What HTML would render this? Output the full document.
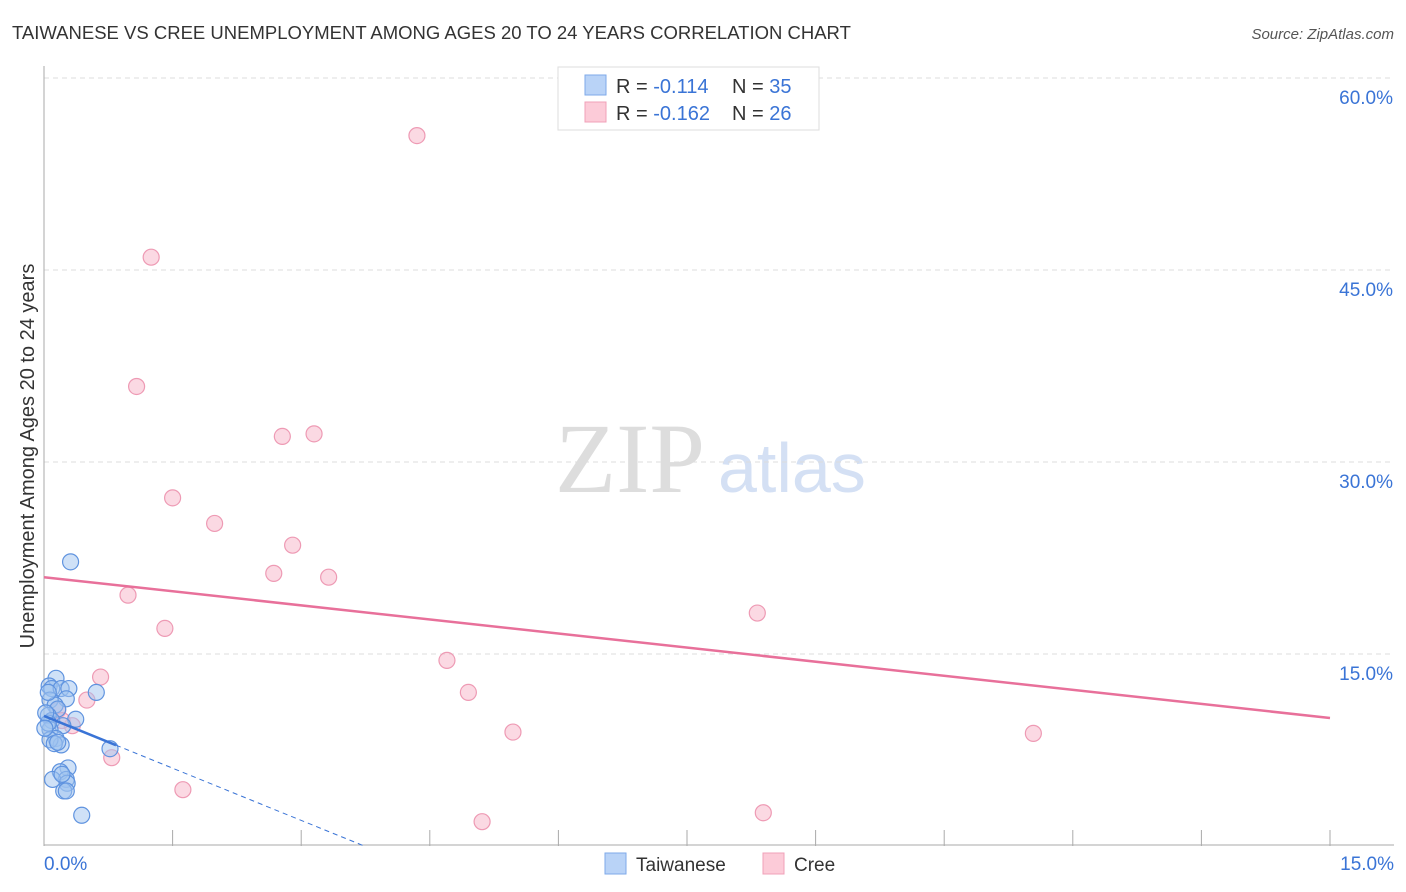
<!DOCTYPE html>
<html><head><meta charset="utf-8"><style>
body{margin:0;background:#fff;font-family:"Liberation Sans",sans-serif;}
#wrap{position:relative;width:1406px;height:892px;overflow:hidden;}
</style></head><body>
<div id="wrap">
<svg id="svg" width="1406" height="892" xmlns="http://www.w3.org/2000/svg" style="position:absolute;left:0;top:0">
<text x="12" y="39" font-size="18.5" fill="#333">TAIWANESE VS CREE UNEMPLOYMENT AMONG AGES 20 TO 24 YEARS CORRELATION CHART</text>
<text x="1394" y="39" font-size="15" fill="#555" font-style="italic" text-anchor="end">Source: ZipAtlas.com</text>
<text transform="translate(34,456) rotate(-90)" font-size="20" fill="#333" text-anchor="middle">Unemployment Among Ages 20 to 24 years</text>
<text x="555" y="492" font-size="100" fill="#ddd" font-family="Liberation Serif,serif">ZIP</text>
<text x="718" y="492" font-size="70" fill="#d4e0f4">atlas</text>
<g id="grid"></g><g id="marks"></g>
<g>
<rect x="558" y="67" width="261" height="63" fill="#fff" stroke="#ddd"/>
<rect x="585" y="75" width="21" height="20" fill="#b9d3f7" stroke="#7eaaea"/>
<rect x="585" y="102" width="21" height="20" fill="#fccbd8" stroke="#f0a0b8"/>
<text x="616" y="93" font-size="20" fill="#333">R = <tspan fill="#3a74d6">-0.114</tspan><tspan x="732">N = </tspan><tspan fill="#3a74d6">35</tspan></text>
<text x="616" y="120" font-size="20" fill="#333">R = <tspan fill="#3a74d6">-0.162</tspan><tspan x="732">N = </tspan><tspan fill="#3a74d6">26</tspan></text>
</g>
<g>
<rect x="605" y="853" width="21" height="21" fill="#b9d3f7" stroke="#7eaaea"/>
<text x="636" y="871" font-size="19" fill="#333">Taiwanese</text>
<rect x="763" y="853" width="21" height="21" fill="#fccbd8" stroke="#f0a0b8"/>
<text x="794" y="871" font-size="19" fill="#333">Cree</text>
</g>
</svg>
</div>
<script>
const blueX=[0.31,0.14,0.06,0.09,0.20,0.29,0.61,0.26,0.07,0.13,0.16,0.05,0.09,0.37,0.22,0.07,0.14,0.20,0.07,0.12,0.77,0.28,0.19,0.26,0.10,0.27,0.23,0.26,0.44,0.05,0.02,0.01,0.16,0.21,0.05];
const blueY=[22.2,13.1,12.5,12.3,12.3,12.3,12.0,11.5,11.4,11.0,10.7,10.2,9.8,9.9,9.4,9.1,8.4,7.9,8.3,8.0,7.6,6.1,5.8,5.2,5.2,4.9,4.3,4.3,2.4,9.6,10.4,9.2,8.1,5.6,12.0];
const pinkX=[4.35,1.25,1.08,2.78,3.15,1.50,1.99,2.90,2.68,3.32,0.98,1.41,8.32,4.70,0.66,4.95,0.50,0.16,0.33,5.47,11.54,0.79,1.62,8.39,5.11,0.21];
const pinkY=[55.5,46.0,35.9,32.0,32.2,27.2,25.2,23.5,21.3,21.0,19.6,17.0,18.2,14.5,13.2,12.0,11.4,10.6,9.4,8.9,8.8,6.9,4.4,2.6,1.9,9.8];
const pinkTrend=[21.0,10.0];
const blueTrend=[10.16,-2.72];
const blueSolidEnd=0.84, blueDashEnd=3.74;
const yTicks=[15,30,45,60];
const xTicks=[0,1.5,3,4.5,6,7.5,9,10.5,12,13.5,15];
const NS="http://www.w3.org/2000/svg";
const X=v=>44+v*1286/15, Y=v=>846-v*12.8;
function mk(t,a,p){const e=document.createElementNS(NS,t);for(const k in a)e.setAttribute(k,a[k]);p.appendChild(e);return e;}
const grid=document.getElementById('grid'),marks=document.getElementById('marks');
yTicks.forEach(t=>{
 const l=mk('line',{x1:44,x2:1394,y1:Y(t),y2:Y(t),stroke:'#ddd','stroke-dasharray':'5,4'},grid);
 
 
 const tx=mk('text',{x:1393,y:Y(t)+26,'font-size':19,fill:'#3a74d6','text-anchor':'end'},grid);
 tx.textContent=t.toFixed(1)+'%';
 
 
});
mk('line',{x1:44,x2:44,y1:66,y2:846,stroke:'#aaa'},grid);
mk('line',{x1:44,x2:1394,y1:845,y2:845,stroke:'#aaa'},grid);
xTicks.forEach(t=>{
 const l=mk('line',{x1:X(t),x2:X(t),y1:830,y2:846,stroke:'#aaa'},grid);
 
 
});
[[0,'start',44],[15,'end',1394]].forEach(([t,a,x])=>{
 const tx=mk('text',{x:x,y:870,'font-size':19,fill:'#3a74d6','text-anchor':a},grid);
 tx.textContent=t.toFixed(1)+'%';
 
 
});
pinkX.forEach((x,i)=>{
 const c=mk('circle',{cx:X(x),cy:Y(pinkY[i]),r:8,fill:'rgba(248,180,200,0.5)',stroke:'#ee9ab4','stroke-width':1.2},marks);
 
 
});
blueX.forEach((x,i)=>{
 const c=mk('circle',{cx:X(x),cy:Y(blueY[i]),r:8,fill:'rgba(160,195,240,0.5)',stroke:'#5f93df','stroke-width':1.2},marks);
 
 
});
const pl=mk('line',{x1:X(0),y1:Y(pinkTrend[0]),x2:X(15),y2:Y(pinkTrend[1]),stroke:'#e8709a','stroke-width':2.5},marks);


const bf=v=>blueTrend[0]+blueTrend[1]*v;
const bl=mk('line',{x1:X(0),y1:Y(bf(0)),x2:X(blueSolidEnd),y2:Y(bf(blueSolidEnd)),stroke:'#3a74d6','stroke-width':2.5},marks);


const bd=mk('line',{x1:X(blueSolidEnd),y1:Y(bf(blueSolidEnd)),x2:X(blueDashEnd),y2:Y(bf(blueDashEnd)),stroke:'#3a74d6','stroke-width':1,'stroke-dasharray':'5,4'},marks);


</script>
</body></html>
